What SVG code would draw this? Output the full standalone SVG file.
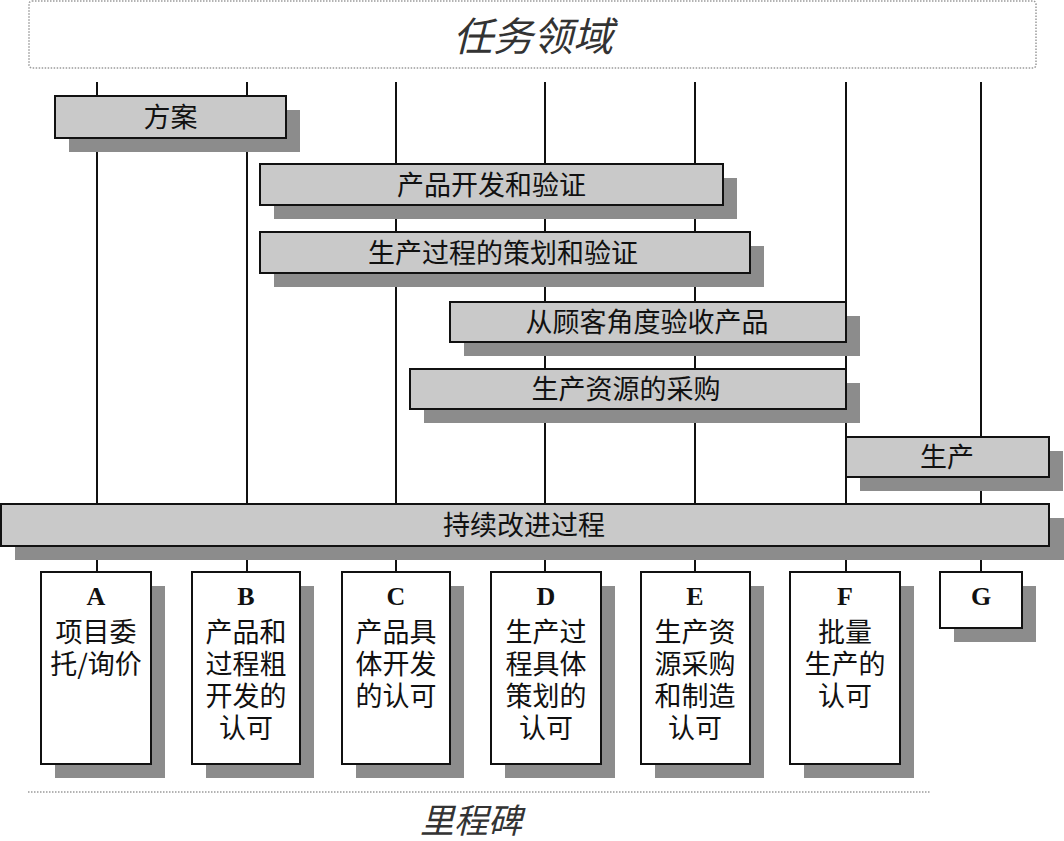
<svg xmlns="http://www.w3.org/2000/svg" width="1064" height="841" viewBox="0 0 1064 841">
<defs>
<style>
.bar{fill:#c9c9c9;stroke:#111;stroke-width:2}
.ms{fill:#fff;stroke:#111;stroke-width:2}
.sh{fill:#8c8c8c}
.cn{font-family:"Noto Sans CJK SC","Noto Sans",sans-serif;font-size:27px;fill:#111;text-anchor:middle}
.mt{font-family:"Noto Sans CJK SC","Noto Sans",sans-serif;font-size:27px;fill:#111;text-anchor:middle}
.lt{font-family:"Liberation Serif",serif;font-size:26px;font-weight:bold;fill:#111;text-anchor:middle}
.it{font-family:"Noto Sans CJK SC","Noto Sans",sans-serif;font-style:italic;fill:#333;text-anchor:middle}
.vl{stroke:#111;stroke-width:2}
.dot{fill:none;stroke:#9a9a9a;stroke-width:1.5;stroke-dasharray:1.5 1.5}
</style>
</defs>
<rect width="1064" height="841" fill="#fff"/>

<g id="header">
<rect class="dot" x="29" y="1" width="1007" height="67" rx="3"/>
<text class="it" x="533" y="51" font-size="40">任务领域</text>
</g>

<g id="connectors">
<line class="vl" x1="97" y1="82" x2="97" y2="572"/>
<line class="vl" x1="247" y1="82" x2="247" y2="572"/>
<line class="vl" x1="396" y1="82" x2="396" y2="572"/>
<line class="vl" x1="545" y1="82" x2="545" y2="572"/>
<line class="vl" x1="695" y1="82" x2="695" y2="572"/>
<line class="vl" x1="846" y1="82" x2="846" y2="572"/>
<line class="vl" x1="981" y1="82" x2="981" y2="572"/>
</g>

<g id="bar-fangan">
<rect class="sh" x="69" y="110" width="231" height="42"/>
<rect class="bar" x="55" y="96" width="231" height="42"/>
<text class="cn" x="170.5" y="127">方案</text>
</g>
<g id="bar-dev">
<rect class="sh" x="274" y="178" width="463" height="41"/>
<rect class="bar" x="260" y="164" width="463" height="41"/>
<text class="cn" x="491.5" y="195">产品开发和验证</text>
</g>
<g id="bar-plan">
<rect class="sh" x="274" y="246" width="490" height="41"/>
<rect class="bar" x="260" y="232" width="490" height="41"/>
<text class="cn" x="503" y="263">生产过程的策划和验证</text>
</g>
<g id="bar-accept">
<rect class="sh" x="464" y="316" width="396" height="40"/>
<rect class="bar" x="450" y="302" width="396" height="40"/>
<text class="cn" x="647" y="332">从顾客角度验收产品</text>
</g>
<g id="bar-purchase">
<rect class="sh" x="424" y="383" width="436" height="40"/>
<rect class="bar" x="410" y="369" width="436" height="40"/>
<text class="cn" x="626" y="399">生产资源的采购</text>
</g>
<g id="bar-production">
<rect class="sh" x="860" y="451" width="203" height="40"/>
<rect class="bar" x="846" y="437" width="203" height="40"/>
<text class="cn" x="947" y="467">生产</text>
</g>
<g id="bar-improve">
<rect class="sh" x="15" y="518" width="1049" height="42"/>
<rect class="bar" x="1" y="504" width="1048" height="42"/>
<text class="cn" x="524" y="535">持续改进过程</text>
</g>

<g id="ms-A">
<rect class="sh" x="55" y="586" width="110" height="192"/>
<rect class="ms" x="41" y="572" width="110" height="192"/>
<text class="lt" x="96" y="605">A</text>
<text class="mt" x="96"><tspan x="96" y="642">项目委</tspan><tspan x="96" y="674">托/询价</tspan></text>
</g>
<g id="ms-B">
<rect class="sh" x="206" y="586" width="108" height="192"/>
<rect class="ms" x="192" y="572" width="108" height="192"/>
<text class="lt" x="246" y="605">B</text>
<text class="mt" x="246"><tspan x="246" y="642">产品和</tspan><tspan x="246" y="674">过程粗</tspan><tspan x="246" y="706">开发的</tspan><tspan x="246" y="738">认可</tspan></text>
</g>
<g id="ms-C">
<rect class="sh" x="356" y="586" width="108" height="192"/>
<rect class="ms" x="342" y="572" width="108" height="192"/>
<text class="lt" x="396" y="605">C</text>
<text class="mt" x="396"><tspan x="396" y="642">产品具</tspan><tspan x="396" y="674">体开发</tspan><tspan x="396" y="706">的认可</tspan></text>
</g>
<g id="ms-D">
<rect class="sh" x="505" y="586" width="110" height="192"/>
<rect class="ms" x="491" y="572" width="110" height="192"/>
<text class="lt" x="546" y="605">D</text>
<text class="mt" x="546"><tspan x="546" y="642">生产过</tspan><tspan x="546" y="674">程具体</tspan><tspan x="546" y="706">策划的</tspan><tspan x="546" y="738">认可</tspan></text>
</g>
<g id="ms-E">
<rect class="sh" x="655" y="586" width="109" height="192"/>
<rect class="ms" x="641" y="572" width="109" height="192"/>
<text class="lt" x="695" y="605">E</text>
<text class="mt" x="695"><tspan x="695" y="642">生产资</tspan><tspan x="695" y="674">源采购</tspan><tspan x="695" y="706">和制造</tspan><tspan x="695" y="738">认可</tspan></text>
</g>
<g id="ms-F">
<rect class="sh" x="804" y="586" width="110" height="192"/>
<rect class="ms" x="790" y="572" width="110" height="192"/>
<text class="lt" x="845" y="605">F</text>
<text class="mt" x="845"><tspan x="845" y="642">批量</tspan><tspan x="845" y="674">生产的</tspan><tspan x="845" y="706">认可</tspan></text>
</g>
<g id="ms-G">
<rect class="sh" x="954" y="586" width="82" height="56"/>
<rect class="ms" x="940" y="572" width="82" height="56"/>
<text class="lt" x="981" y="605">G</text>
</g>

<g id="footer">
<line class="dot" x1="28" y1="792" x2="931" y2="792"/>
<text class="it" x="471" y="833" font-size="34">里程碑</text>
</g>
</svg>
